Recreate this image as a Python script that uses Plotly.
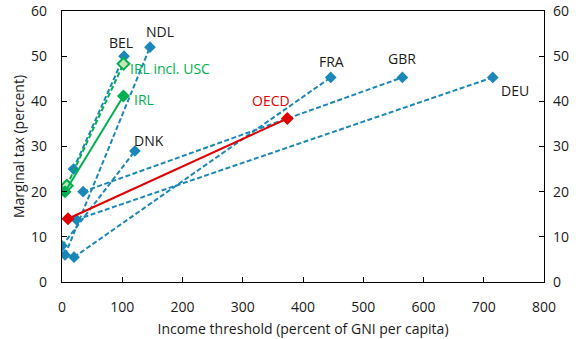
import plotly.graph_objects as go

# ---- data ----
countries = ["BEL", "NDL", "DNK", "FRA", "GBR", "DEU"]
x_low = [19, 5, 0, 20, 35, 24]
y_low = [25, 6, 8, 5.5, 20, 13.8]
x_high = [103, 146, 121, 446, 565, 715]
y_high = [50, 52, 29, 45.3, 45.3, 45.3]

irl_x = [5, 102]
irl_y = [20, 41.2]
irl_usc_x = [8, 102]
irl_usc_y = [21.3, 48.3]
oecd_x = [10, 374]
oecd_y = [14, 36.2]

x_ticks = [0, 100, 200, 300, 400, 500, 600, 700, 800]
y_ticks = [0, 10, 20, 30, 40, 50, 60]

BLUE = "#1A87B9"
GREEN = "#00B050"
LIGHTGREEN = "#C9E5B8"
RED = "#E00000"
FONT = "Open Sans"
FS = 14
TXT = "#1a1a1a"

fig = go.Figure()

for i, c in enumerate(countries):
    fig.add_trace(go.Scatter(
        x=[x_low[i], x_high[i]], y=[y_low[i], y_high[i]],
        mode="lines+markers",
        line=dict(color=BLUE, width=2, dash="5px,2.5px"),
        marker=dict(symbol="diamond", size=9, color=BLUE),
        showlegend=False, hoverinfo="skip"))

fig.add_trace(go.Scatter(
    x=irl_usc_x, y=irl_usc_y, mode="lines+markers",
    line=dict(color=GREEN, width=2, dash="5px,2.5px"),
    marker=dict(symbol="diamond", size=9, color=LIGHTGREEN,
                line=dict(color=GREEN, width=2)),
    showlegend=False, hoverinfo="skip"))
fig.add_trace(go.Scatter(
    x=irl_x, y=irl_y, mode="lines+markers",
    line=dict(color=GREEN, width=2),
    marker=dict(symbol="diamond", size=10, color=GREEN),
    showlegend=False, hoverinfo="skip"))
fig.add_trace(go.Scatter(
    x=oecd_x, y=oecd_y, mode="lines+markers",
    line=dict(color=RED, width=2),
    marker=dict(symbol="diamond", size=10, color=RED),
    showlegend=False, hoverinfo="skip"))

# invisible trace for the right axis
fig.add_trace(go.Scatter(x=[0], y=[0], yaxis="y2", mode="markers",
                         marker=dict(opacity=0), showlegend=False,
                         hoverinfo="skip"))

# ---- labels ----
label_font = dict(family=FONT, size=FS, color=TXT)
shifts = {
    "BEL": (-3, 14), "NDL": (10, 16), "DNK": (14, 11),
    "FRA": (1, 16), "GBR": (0, 19), "DEU": (22, -13),
}
for i, c in enumerate(countries):
    dx, dy = shifts[c]
    fig.add_annotation(x=x_high[i], y=y_high[i], text=c, showarrow=False,
                       xshift=dx, yshift=dy, font=label_font)

fig.add_annotation(x=irl_usc_x[1], y=irl_usc_y[1], text="IRL incl. USC",
                   showarrow=False, xanchor="left", xshift=5, yshift=-5,
                   font=dict(family=FONT, size=FS, color=GREEN))
fig.add_annotation(x=irl_x[1], y=irl_y[1], text="IRL",
                   showarrow=False, xanchor="left", xshift=9, yshift=-4,
                   font=dict(family=FONT, size=FS, color=GREEN))
fig.add_annotation(x=oecd_x[1], y=oecd_y[1], text="OECD",
                   showarrow=False, xshift=-16, yshift=18,
                   font=dict(family=FONT, size=FS, color=RED))

axis_common = dict(showgrid=False, zeroline=False, showline=True,
                   linecolor="black", linewidth=1.3, ticks="inside",
                   ticklen=5, tickcolor="black", automargin=False,
                   ticklabeloverflow="allow",
                   tickfont=dict(family=FONT, size=FS, color=TXT))

fig.update_layout(
    width=576, height=339,
    margin=dict(l=62, r=32, t=11, b=57),
    paper_bgcolor="white", plot_bgcolor="white",
    xaxis=dict(range=[0, 800], tickvals=x_ticks, mirror=True,
               ticklabelstandoff=12,
               title=dict(text="Income threshold (percent of GNI per capita)",
                          font=dict(family=FONT, size=FS, color=TXT),
                          standoff=9),
               **axis_common),
    yaxis=dict(range=[0, 60], tickvals=y_ticks, ticklabelstandoff=11,
               title=dict(text="Marginal tax (percent)",
                          font=dict(family=FONT, size=FS, color=TXT),
                          standoff=3),
               **axis_common),
    yaxis2=dict(range=[0, 60], tickvals=y_ticks, overlaying="y",
                side="right", ticklabelstandoff=5, **axis_common),
)

fig.write_html("out.html",
               config={"displayModeBar": False, "staticPlot": True},
               post_script="document.body.style.margin='0';")
